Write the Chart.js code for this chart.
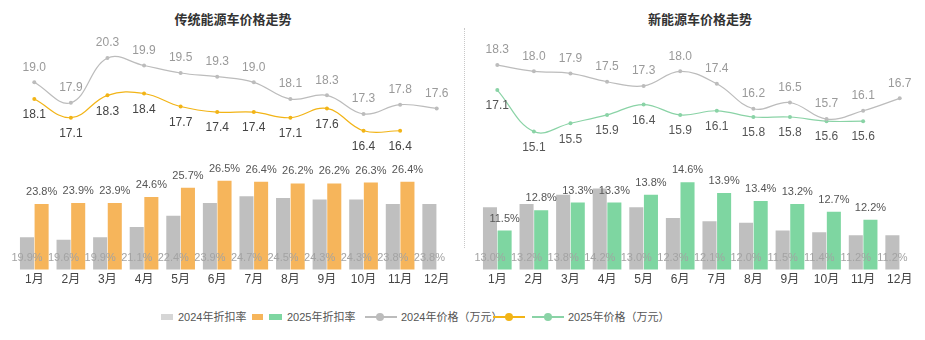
<!DOCTYPE html>
<html>
<head>
<meta charset="utf-8">
<script src="https://cdn.jsdelivr.net/npm/chart.js@4.4.1/dist/chart.umd.min.js"></script>
<style>
  body { margin: 0; background: #fff; font-family: 'Liberation Sans', 'Noto Sans CJK SC', sans-serif; }
  #wrap { position: relative; width: 925px; height: 340px; overflow: hidden; }
  .box { position: absolute; top: 0; height: 300px; }
  .title { position: absolute; top: 9px; font-size: 13px; font-weight: bold; color: #333; text-align: center; }
  #divider { position: absolute; left: 464px; top: 28px; height: 220px; border-left: 1px dotted #c8c8c8; }
  #legend { position: absolute; top: 309px; left: 0; width: 925px; height: 16px; font-size: 11px; color: #555; }
  #legend span { position: absolute; top: 0; line-height: 16px; white-space: nowrap; }
  .sq { position: absolute; top: 5px; height: 6px; }
  .ln { position: absolute; top: 7px; height: 2px; }
  .dot { position: absolute; top: 4px; width: 8px; height: 8px; border-radius: 50%; }
</style>
</head>
<body>
<div id="wrap">
  <div class="title" style="left:133px;width:200px;">传统能源车价格走势</div>
  <div class="title" style="left:600px;width:200px;">新能源车价格走势</div>
  <div class="box" style="left:0;width:462px;"><canvas id="left"></canvas></div>
  <div class="box" style="left:465px;width:460px;"><canvas id="right"></canvas></div>
  <div id="divider"></div>
  <div id="legend"></div>
</div>
<script>
var months = ['1月','2月','3月','4月','5月','6月','7月','8月','9月','10月','11月','12月'];

// 传统能源车
var fuelPrice2024 = [19.0, 17.9, 20.3, 19.9, 19.5, 19.3, 19.0, 18.1, 18.3, 17.3, 17.8, 17.6];
var fuelPrice2025 = [18.1, 17.1, 18.3, 18.4, 17.7, 17.4, 17.4, 17.1, 17.6, 16.4, 16.4, null];
var fuelDisc2024 = [19.9, 19.6, 19.9, 21.1, 22.4, 23.9, 24.7, 24.5, 24.3, 24.3, 23.8, 23.8];
var fuelDisc2025 = [23.8, 23.9, 23.9, 24.6, 25.7, 26.5, 26.4, 26.2, 26.2, 26.3, 26.4, null];

// 新能源车
var nevPrice2024 = [18.3, 18.0, 17.9, 17.5, 17.3, 18.0, 17.4, 16.2, 16.5, 15.7, 16.1, 16.7];
var nevPrice2025 = [17.1, 15.1, 15.5, 15.9, 16.4, 15.9, 16.1, 15.8, 15.8, 15.6, 15.6, null];
var nevDisc2024 = [13.0, 13.2, 13.8, 14.2, 13.0, 12.3, 12.1, 12.0, 11.5, 11.4, 11.2, 11.2];
var nevDisc2025 = [11.5, 12.8, 13.3, 13.3, 13.8, 14.6, 13.9, 13.4, 13.2, 12.7, 12.2, null];

var GRAY_BAR = '#bfbfbf';
var GRAY_LINE = '#bcbcbc';
var ORANGE_BAR = '#f6b55b';
var ORANGE_LINE = '#f2b416';
var GREEN_BAR = '#7ed6a1';
var GREEN_LINE = '#8ad3a6';

Chart.defaults.font.family = "'Liberation Sans', 'Noto Sans CJK SC', sans-serif";
Chart.defaults.animation = false;

// draws value labels next to points / bars
var valueLabels = {
  id: 'valueLabels',
  afterDatasetsDraw: function (chart) {
    var ctx = chart.ctx;
    var bottom = chart.chartArea.bottom;
    chart.data.datasets.forEach(function (ds, i) {
      if (!ds.lbl) return;
      var meta = chart.getDatasetMeta(i);
      ctx.save();
      ctx.font = ds.lbl.size + 'px ' + Chart.defaults.font.family;
      ctx.fillStyle = ds.lbl.color;
      ctx.textAlign = 'center';
      ctx.textBaseline = 'middle';
      meta.data.forEach(function (el, j) {
        var v = ds.data[j];
        if (v === null || v === undefined) return;
        var txt = v.toFixed(1) + (ds.lbl.suffix || '');
        var y;
        if (ds.lbl.pos === 'above') y = el.y - 15;
        else if (ds.lbl.pos === 'below') y = el.y + 16;
        else if (ds.lbl.pos === 'top') y = el.y - 12;
        else y = bottom - 12;
        ctx.fillText(txt, el.x, y);
      });
      ctx.restore();
    });
  }
};

function makeChart(id, p24, p25, d24, d25, barColor, lineColor, labColor, barRange, lineRange, pad) {
  return new Chart(document.getElementById(id), {
    type: 'bar',
    data: {
      labels: months,
      datasets: [
        {
          type: 'line', label: '2024年价格（万元）', data: p24, yAxisID: 'y1', order: 1,
          borderColor: GRAY_LINE, backgroundColor: GRAY_LINE, borderWidth: 1.2,
          pointRadius: 2, pointBorderWidth: 0, tension: 0.4,
          lbl: { pos: 'above', color: '#9a9a9a', size: 12 }
        },
        {
          type: 'line', label: '2025年价格（万元）', data: p25, yAxisID: 'y1', order: 1,
          borderColor: lineColor, backgroundColor: lineColor, borderWidth: 1.2,
          pointRadius: 2, pointBorderWidth: 0, tension: 0.4,
          lbl: { pos: 'below', color: labColor, size: 12 }
        },
        {
          label: '2024年折扣率', data: d24, yAxisID: 'y', order: 2,
          backgroundColor: GRAY_BAR, categoryPercentage: 0.8, barPercentage: 0.96,
          lbl: { pos: 'base', color: '#a3a3a3', size: 11, suffix: '%' }
        },
        {
          label: '2025年折扣率', data: d25, yAxisID: 'y', order: 2,
          backgroundColor: barColor, categoryPercentage: 0.8, barPercentage: 0.96,
          lbl: { pos: 'top', color: '#555', size: 11, suffix: '%' }
        }
      ]
    },
    options: {
      responsive: true,
      maintainAspectRatio: false,
      layout: { padding: pad },
      plugins: { legend: { display: false }, tooltip: { enabled: false } },
      scales: {
        x: {
          grid: { display: false, drawTicks: false }, border: { display: false },
          ticks: { color: '#444', font: { size: 12 }, padding: 3 }
        },
        y: { display: false, min: barRange[0], max: barRange[1] },
        y1: { display: false, min: lineRange[0], max: lineRange[1] }
      }
    },
    plugins: [valueLabels]
  });
}

makeChart('left', fuelPrice2024, fuelPrice2025, fuelDisc2024, fuelDisc2025,
  ORANGE_BAR, ORANGE_LINE, '#444', [16.1, 43], [8.95, 21.27],
  { left: 16, right: 7, top: 40, bottom: 10 });

makeChart('right', nevPrice2024, nevPrice2025, nevDisc2024, nevDisc2025,
  GREEN_BAR, GREEN_LINE, '#555', [9, 23.71], [8.45, 19.51],
  { left: 14, right: 7, top: 40, bottom: 10 });

// legend
var lg = document.getElementById('legend');
lg.innerHTML =
  '<div class="sq" style="left:161px;width:12px;background:#d6d6d6"></div>' +
  '<span style="left:178px">2024年折扣率</span>' +
  '<div class="sq" style="left:252px;width:11px;background:' + ORANGE_BAR + '"></div>' +
  '<div class="sq" style="left:269px;width:13px;background:' + GREEN_BAR + '"></div>' +
  '<span style="left:287px">2025年折扣率</span>' +
  '<div class="ln" style="left:365px;width:32px;background:' + GRAY_LINE + '"></div>' +
  '<div class="dot" style="left:376px;background:' + GRAY_LINE + '"></div>' +
  '<span style="left:401px">2024年价格（万元）</span>' +
  '<div class="ln" style="left:493px;width:32px;background:' + ORANGE_LINE + '"></div>' +
  '<div class="dot" style="left:505px;background:' + ORANGE_LINE + '"></div>' +
  '<div class="ln" style="left:532px;width:32px;background:' + GREEN_LINE + '"></div>' +
  '<div class="dot" style="left:544px;background:' + GREEN_LINE + '"></div>' +
  '<span style="left:568px">2025年价格（万元）</span>';
</script>
</body>
</html>
